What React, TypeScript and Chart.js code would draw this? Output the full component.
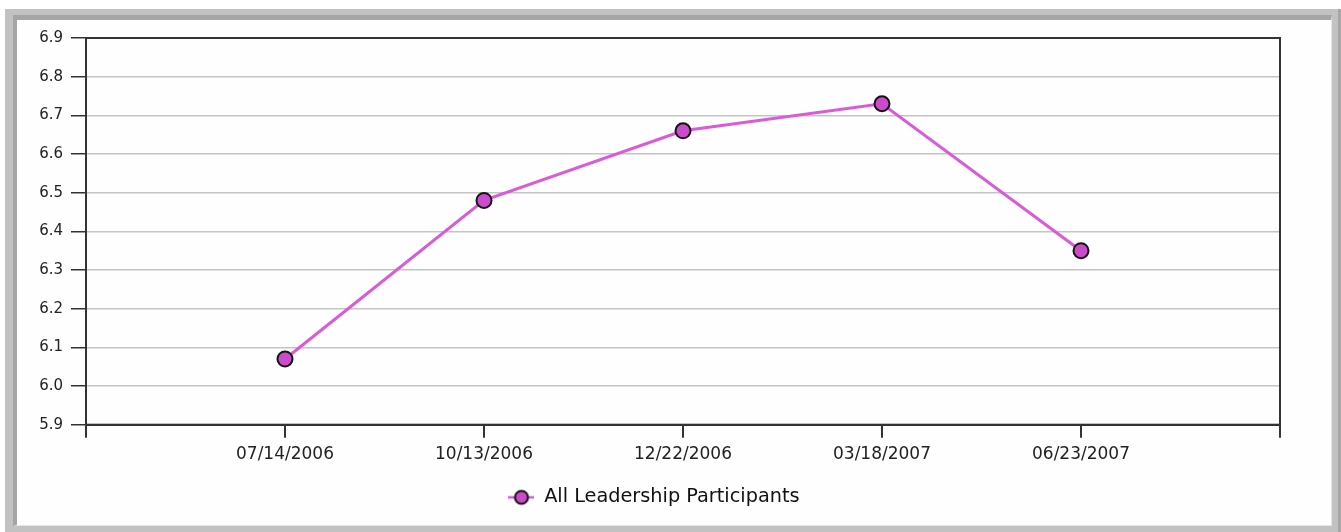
import React, { useEffect, useRef } from "react";
import { Chart, registerables } from "chart.js";

Chart.register(...registerables);

const dates: string[] = ["07/14/2006", "10/13/2006", "12/22/2006", "03/18/2007", "06/23/2007"];
const values: number[] = [6.07, 6.48, 6.66, 6.73, 6.35];
const seriesName = "All Leadership Participants";
const yMin = 5.9;
const yMax = 6.9;
const yStep = 0.1;

const LINE = "#d95bd9";
const FILL = "#cc4acc";
const FONT = "'DejaVu Sans', sans-serif";

function legendMarker(): HTMLCanvasElement {
  const c = document.createElement("canvas");
  c.width = 26;
  c.height = 18;
  const g = c.getContext("2d")!;
  g.strokeStyle = LINE;
  g.lineWidth = 2.5;
  g.beginPath();
  g.moveTo(0, 9);
  g.lineTo(26, 9);
  g.stroke();
  g.beginPath();
  g.arc(13, 9, 6.5, 0, Math.PI * 2);
  g.fillStyle = FILL;
  g.fill();
  g.lineWidth = 2;
  g.strokeStyle = "#111";
  g.stroke();
  return c;
}

const frameBox = {
  id: "frameBox",
  afterDraw(chart: any) {
    const { ctx, chartArea } = chart;
    ctx.save();
    ctx.strokeStyle = "#333";
    ctx.lineWidth = 2;
    ctx.strokeRect(chartArea.left, chartArea.top, chartArea.right - chartArea.left, chartArea.bottom - chartArea.top);
    ctx.restore();
  },
};

export default function App() {
  const ref = useRef<HTMLCanvasElement | null>(null);

  useEffect(() => {
    if (!ref.current) return;
    const marker = legendMarker();
    const chart = new Chart(ref.current, {
      type: "line",
      data: {
        datasets: [
          {
            label: seriesName,
            data: values.map((v, i) => ({ x: i + 1, y: v })),
            borderColor: LINE,
            borderWidth: 3,
            backgroundColor: FILL,
            pointBackgroundColor: FILL,
            pointBorderColor: "#151515",
            pointBorderWidth: 2,
            pointRadius: 7.5,
            tension: 0,
          },
        ],
      },
      options: {
        animation: false,
        responsive: false,
        maintainAspectRatio: false,
        layout: { padding: { top: 18, right: 22, bottom: 8, left: 0 } },
        scales: {
          x: {
            type: "linear",
            min: 0,
            max: dates.length + 1,
            afterFit: (s: any) => {
              s.height = 53;
            },
            ticks: {
              stepSize: 1,
              autoSkip: false,
              maxRotation: 0,
              padding: 7,
              color: "#222",
              font: { family: FONT, size: 17 },
              callback: (v: any) => {
                const i = Number(v) - 1;
                return i >= 0 && i < dates.length ? dates[i] : "";
              },
            },
            grid: {
              drawOnChartArea: false,
              tickLength: 13,
              tickColor: "#333",
              lineWidth: 2,
            },
            border: { color: "#333", width: 2 },
          },
          y: {
            min: yMin,
            max: yMax,
            afterFit: (s: any) => {
              s.width = 58;
            },
            ticks: {
              stepSize: yStep,
              padding: 8,
              color: "#222",
              font: { family: FONT, size: 15 },
              callback: (v: any) => Number(v).toFixed(1),
            },
            grid: {
              color: "#c4c4c4",
              lineWidth: 1.5,
              tickLength: 15,
              tickColor: "#333",
            },
            border: { color: "#333", width: 2 },
          },
        },
        plugins: {
          legend: {
            position: "bottom",
            labels: {
              usePointStyle: true,
              pointStyleWidth: 26,
              padding: 10,
              color: "#111",
              font: { family: FONT, size: 19.3 },
              generateLabels: (ch: any) =>
                ch.data.datasets.map((d: any, i: number) => ({
                  text: d.label,
                  pointStyle: marker,
                  fillStyle: FILL,
                  strokeStyle: "#111",
                  lineWidth: 0,
                  hidden: false,
                  datasetIndex: i,
                  fontColor: "#111",
                })),
            },
          },
          tooltip: { enabled: false },
        },
      },
      plugins: [frameBox],
    } as any);
    return () => chart.destroy();
  }, []);

  return (
    <div style={{ position: "fixed", left: 0, top: 0, width: 1341, height: 532, background: "#fff", overflow: "hidden" }}>
      <div
        style={{
          position: "absolute",
          left: 5,
          top: 9,
          width: 1336,
          height: 530,
          background: "#c2c2c2",
          boxSizing: "border-box",
          borderRight: "3px solid #a6a6a6",
        }}
      />
      <div
        style={{
          position: "absolute",
          left: 13,
          top: 15,
          width: 1319,
          height: 511,
          boxSizing: "border-box",
          borderTop: "5px solid #a5a5a5",
          borderLeft: "4px solid #a5a5a5",
          borderRight: "1px solid #e6e6e6",
          borderBottom: "1px solid #e6e6e6",
          background: "#fefefe",
        }}
      />
      <canvas
        ref={ref}
        width={1274}
        height={505}
        style={{ position: "absolute", left: 28, top: 20, width: 1274, height: 505 }}
      />
    </div>
  );
}
